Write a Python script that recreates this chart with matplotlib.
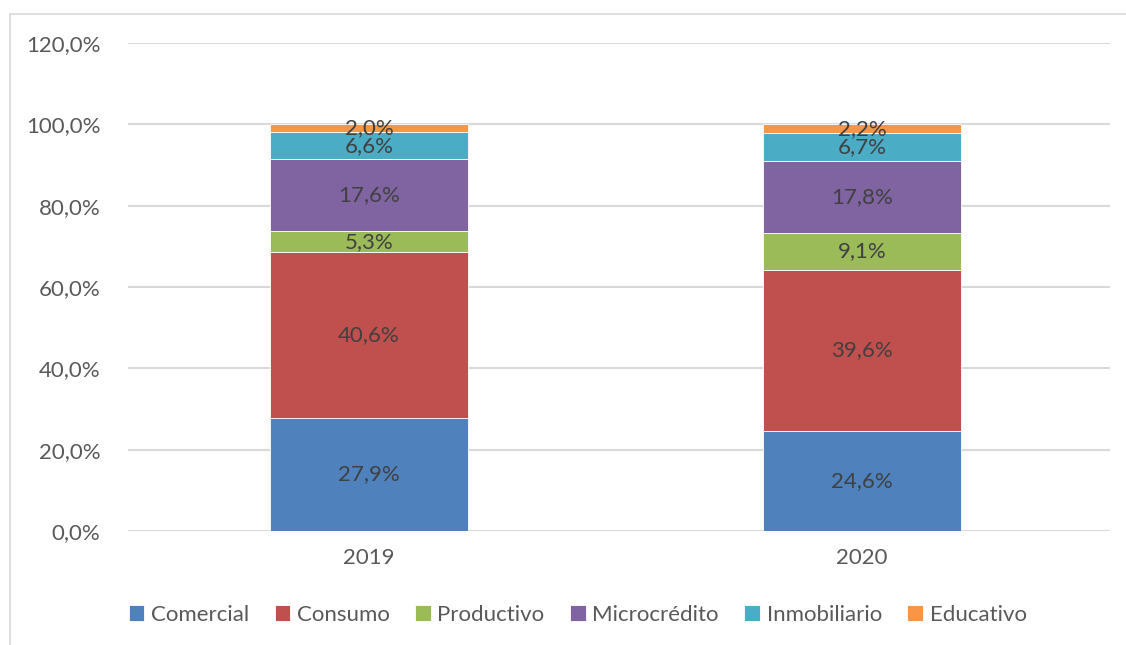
import matplotlib.pyplot as plt
from matplotlib.lines import Line2D
import numpy as np

years = ['2019', '2020']
series = ['Comercial', 'Consumo', 'Productivo', 'Microcrédito', 'Inmobiliario', 'Educativo']
comercial = [27.9, 24.6]
consumo = [40.6, 39.6]
productivo = [5.3, 9.1]
microcredito = [17.6, 17.8]
inmobiliario = [6.6, 6.7]
educativo = [2.0, 2.2]
yticks = [0, 20, 40, 60, 80, 100, 120]

values = [comercial, consumo, productivo, microcredito, inmobiliario, educativo]
colors = ['#4F81BD', '#C0504D', '#9BBB59', '#8064A2', '#4BACC6', '#F79646']

plt.rcParams['font.family'] = ['Lato', 'DejaVu Sans']

fig = plt.figure(figsize=(11.26, 6.45), dpi=100)
ax = fig.add_axes([128 / 1126, 1 - 531 / 645, (1110 - 128) / 1126, (531 - 43) / 645])

x = np.arange(len(years))
bottom = np.zeros(len(years))
for name, vals, col in zip(series, values, colors):
    vals = np.array(vals)
    ax.bar(x, vals, 0.402, bottom=bottom, color=col, label=name,
           edgecolor='white', linewidth=0.6, zorder=3)
    for xi, b, v in zip(x, bottom, vals):
        ax.text(xi, b + v / 2, f'{v:.1f}%'.replace('.', ','), ha='center', va='center',
                fontsize=16, color='#404040', zorder=4)
    bottom += vals

ax.set_xlim(-0.489, 1.503)
ax.set_ylim(0, 120)
ax.set_yticks(yticks)
ax.set_yticklabels([f'{t:.1f}%'.replace('.', ',') for t in yticks])
ax.set_xticks(x)
ax.set_xticklabels(years)
ax.tick_params(length=0, labelsize=16, labelcolor='#595959')
ax.tick_params(axis='y', pad=20)
ax.tick_params(axis='x', pad=12)
ax.grid(axis='y', color='#D9D9D9', linewidth=1.5, zorder=0)
for s in ax.spines.values():
    s.set_visible(False)

fig.legend(loc='center', bbox_to_anchor=(0.513, 1 - 615 / 645), ncol=6, frameon=False,
           fontsize=16, labelcolor='#595959', handlelength=0.7, handleheight=0.7,
           handletextpad=0.3, columnspacing=1.15)

# chart area border (cropped at right and bottom)
fig.add_artist(Line2D([10 / 1126, 1], [1 - 14 / 645, 1 - 14 / 645], color='#D9D9D9', linewidth=1.2))
fig.add_artist(Line2D([10 / 1126, 10 / 1126], [0, 1 - 14 / 645], color='#D9D9D9', linewidth=1.2))

fig.savefig('out.png', dpi=100)
